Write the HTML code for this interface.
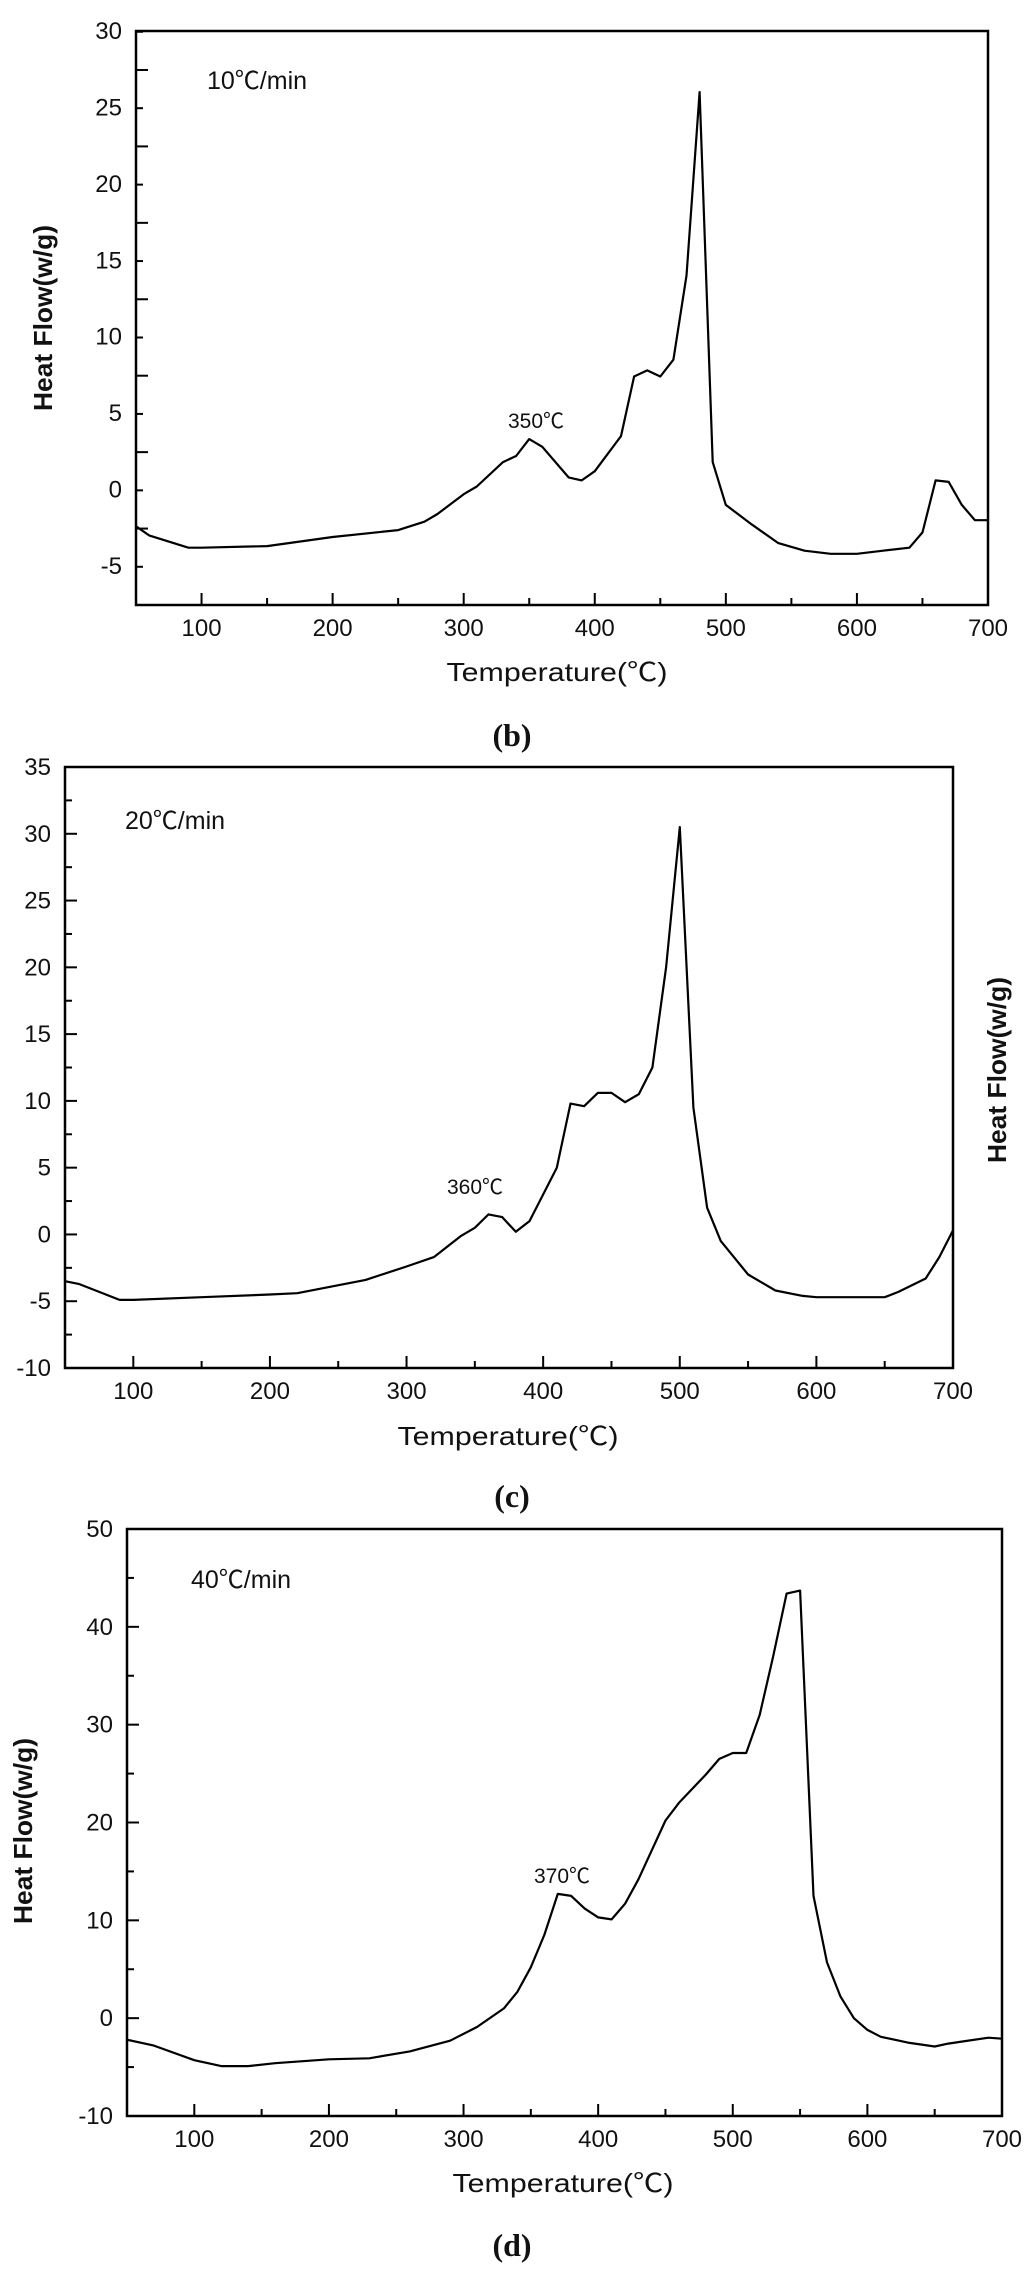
<!DOCTYPE html>
<html><head><meta charset="utf-8">
<style>
html,body{margin:0;padding:0;background:#fff;}
svg{display:block;}
text{font-family:"Liberation Sans","Noto Sans CJK SC",sans-serif;fill:#111;}
.cap{font-family:"Liberation Serif",serif;font-weight:bold;font-size:32px;}
</style></head>
<body>
<svg id="fig" width="1024" height="2272" viewBox="0 0 1024 2272" xmlns="http://www.w3.org/2000/svg"></svg>
<script>
const tempsB = [50,60,90,100,150,200,250,270,280,300,310,330,340,350,360,380,390,400,420,430,440,450,460,470,480,490,500,520,540,560,580,600,620,640,650,660,670,680,690,700];
const flowB  = [-2.4,-3.0,-3.8,-3.8,-3.7,-3.1,-2.65,-2.1,-1.6,-0.3,0.2,1.8,2.2,3.3,2.8,0.8,0.6,1.2,3.5,7.4,7.8,7.4,8.5,14,26,1.8,-1.0,-2.3,-3.5,-4.0,-4.2,-4.2,-4.0,-3.8,-2.8,0.6,0.5,-1.0,-2.0,-2.0];
const tempsC = [50,60,90,100,150,200,220,270,300,320,340,350,360,370,380,390,400,410,420,430,440,450,460,470,480,490,500,510,520,530,550,570,590,600,650,660,680,690,700];
const flowC  = [-3.5,-3.7,-4.9,-4.9,-4.7,-4.5,-4.4,-3.4,-2.4,-1.7,-0.1,0.5,1.5,1.3,0.2,1.0,3.0,5.0,9.8,9.6,10.6,10.6,9.9,10.5,12.5,20,30.5,9.5,2.0,-0.5,-3.0,-4.2,-4.6,-4.7,-4.7,-4.3,-3.3,-1.7,0.3];
const tempsD = [50,70,100,120,140,160,200,230,260,290,310,330,340,350,360,370,380,390,400,410,420,430,450,460,480,490,500,510,520,530,540,550,560,570,580,590,600,610,630,650,660,670,690,700];
const flowD  = [-2.2,-2.8,-4.3,-4.9,-4.9,-4.6,-4.2,-4.1,-3.4,-2.3,-0.9,1.0,2.7,5.2,8.5,12.7,12.5,11.2,10.3,10.1,11.7,14.2,20.2,22.0,24.9,26.5,27.1,27.1,31.0,37.0,43.4,43.7,12.5,5.7,2.2,0.0,-1.2,-1.9,-2.5,-2.9,-2.6,-2.4,-2.0,-2.1];
const xTicks = [100,200,300,400,500,600,700];
const yTicksB = [-5,0,5,10,15,20,25,30];
const yTicksC = [-10,-5,0,5,10,15,20,25,30,35];
const yTicksD = [-10,0,10,20,30,40,50];

const NS="http://www.w3.org/2000/svg";
const svg=document.getElementById('fig');
function mk(tag,attrs,parent){const e=document.createElementNS(NS,tag);for(const k in attrs)e.setAttribute(k,attrs[k]);(parent||svg).appendChild(e);return e;}

function panel(o){
  const g=mk('g',{});
  
  
  const sx=v=>o.L+(v-50)/(700-50)*(o.R-o.L);
  const sy=v=>o.B-(v-o.ymin)/(o.ymax-o.ymin)*(o.B-o.T);
  const fr=mk('rect',{x:o.L,y:o.T,width:o.R-o.L,height:o.B-o.T,fill:'none',stroke:'#000','stroke-width':2.5},g);
  
  
  // x ticks
  for(let v=50;v<=700;v+=50){
    const major=v%100===0;
    mk('line',{x1:sx(v),x2:sx(v),y1:o.B,y2:o.B-(major?12:7),stroke:'#000','stroke-width':2},g);
  }
  xTicks.forEach(v=>{
    const t=mk('text',{x:sx(v),y:o.B+31,'text-anchor':'middle','font-size':24},g);
    t.textContent=v;
    
    
  });
  // y ticks
  const st=o.ystep/2;
  for(let v=o.ymin;v<=o.ymax+1e-9;v+=st){
    const major=Math.abs((v-o.ymin)/o.ystep-Math.round((v-o.ymin)/o.ystep))<1e-6;
    mk('line',{x1:o.L,x2:o.L+(major?12:7),y1:sy(v),y2:sy(v),stroke:'#000','stroke-width':2},g);
  }
  o.yt.forEach(v=>{
    const t=mk('text',{x:o.L-14,y:sy(v)+8,'text-anchor':'end','font-size':24},g);
    t.textContent=v;
    
    
  });
  // curve
  const d=o.xs.map((x,i)=>(i?'L':'M')+sx(x).toFixed(1)+' '+sy(o.ys[i]).toFixed(1)).join(' ');
  const p=mk('path',{d:d,fill:'none',stroke:'#000','stroke-width':2.2,'stroke-linejoin':'round'},g);
  
  
  // labels
  const xt=mk('text',{x:o.xtx,y:o.xty,'text-anchor':'middle','font-size':26,textLength:221,lengthAdjust:'spacingAndGlyphs'},g);
  xt.textContent='Temperature(℃)';
  
  
  const yt=mk('text',{x:0,y:0,'text-anchor':'middle','font-size':26,'font-weight':'bold',textLength:186,lengthAdjust:'spacingAndGlyphs',transform:`translate(${o.ytx},${o.yty}) rotate(-90)`},g);
  yt.textContent='Heat Flow(w/g)';
  
  
  const rt=mk('text',{x:o.rx,y:o.ry,'font-size':25},g);
  rt.textContent=o.rate;
  
  
  const an=mk('text',{x:o.ax,y:o.ay,'font-size':21},g);
  an.textContent=o.ann;
  
  
  const cp=mk('text',{x:512,y:o.cy,'text-anchor':'middle',class:'cap'},g);
  cp.textContent=o.cap;
  
  
}

panel({name:'panel-b',L:136,R:988,T:31,B:605,ymin:-7.55,ymax:30,ystep:5,yt:yTicksB,xs:tempsB,ys:flowB,
  xtx:557,xty:681,ytx:52,yty:318,rx:207,ry:89,rate:'10℃/min',ax:508,ay:428,ann:'350℃',cap:'(b)',cy:746});
panel({name:'panel-c',L:65,R:953,T:767,B:1368,ymin:-10,ymax:35,ystep:5,yt:yTicksC,xs:tempsC,ys:flowC,
  xtx:508,xty:1445,ytx:1006,yty:1070,rx:125,ry:829,rate:'20℃/min',ax:447,ay:1194,ann:'360℃',cap:'(c)',cy:1507});
panel({name:'panel-d',L:127,R:1002,T:1529,B:2116,ymin:-10,ymax:50,ystep:10,yt:yTicksD,xs:tempsD,ys:flowD,
  xtx:563,xty:2192,ytx:32,yty:1831,rx:191,ry:1588,rate:'40℃/min',ax:534,ay:1883,ann:'370℃',cap:'(d)',cy:2256});
</script>
</body></html>
